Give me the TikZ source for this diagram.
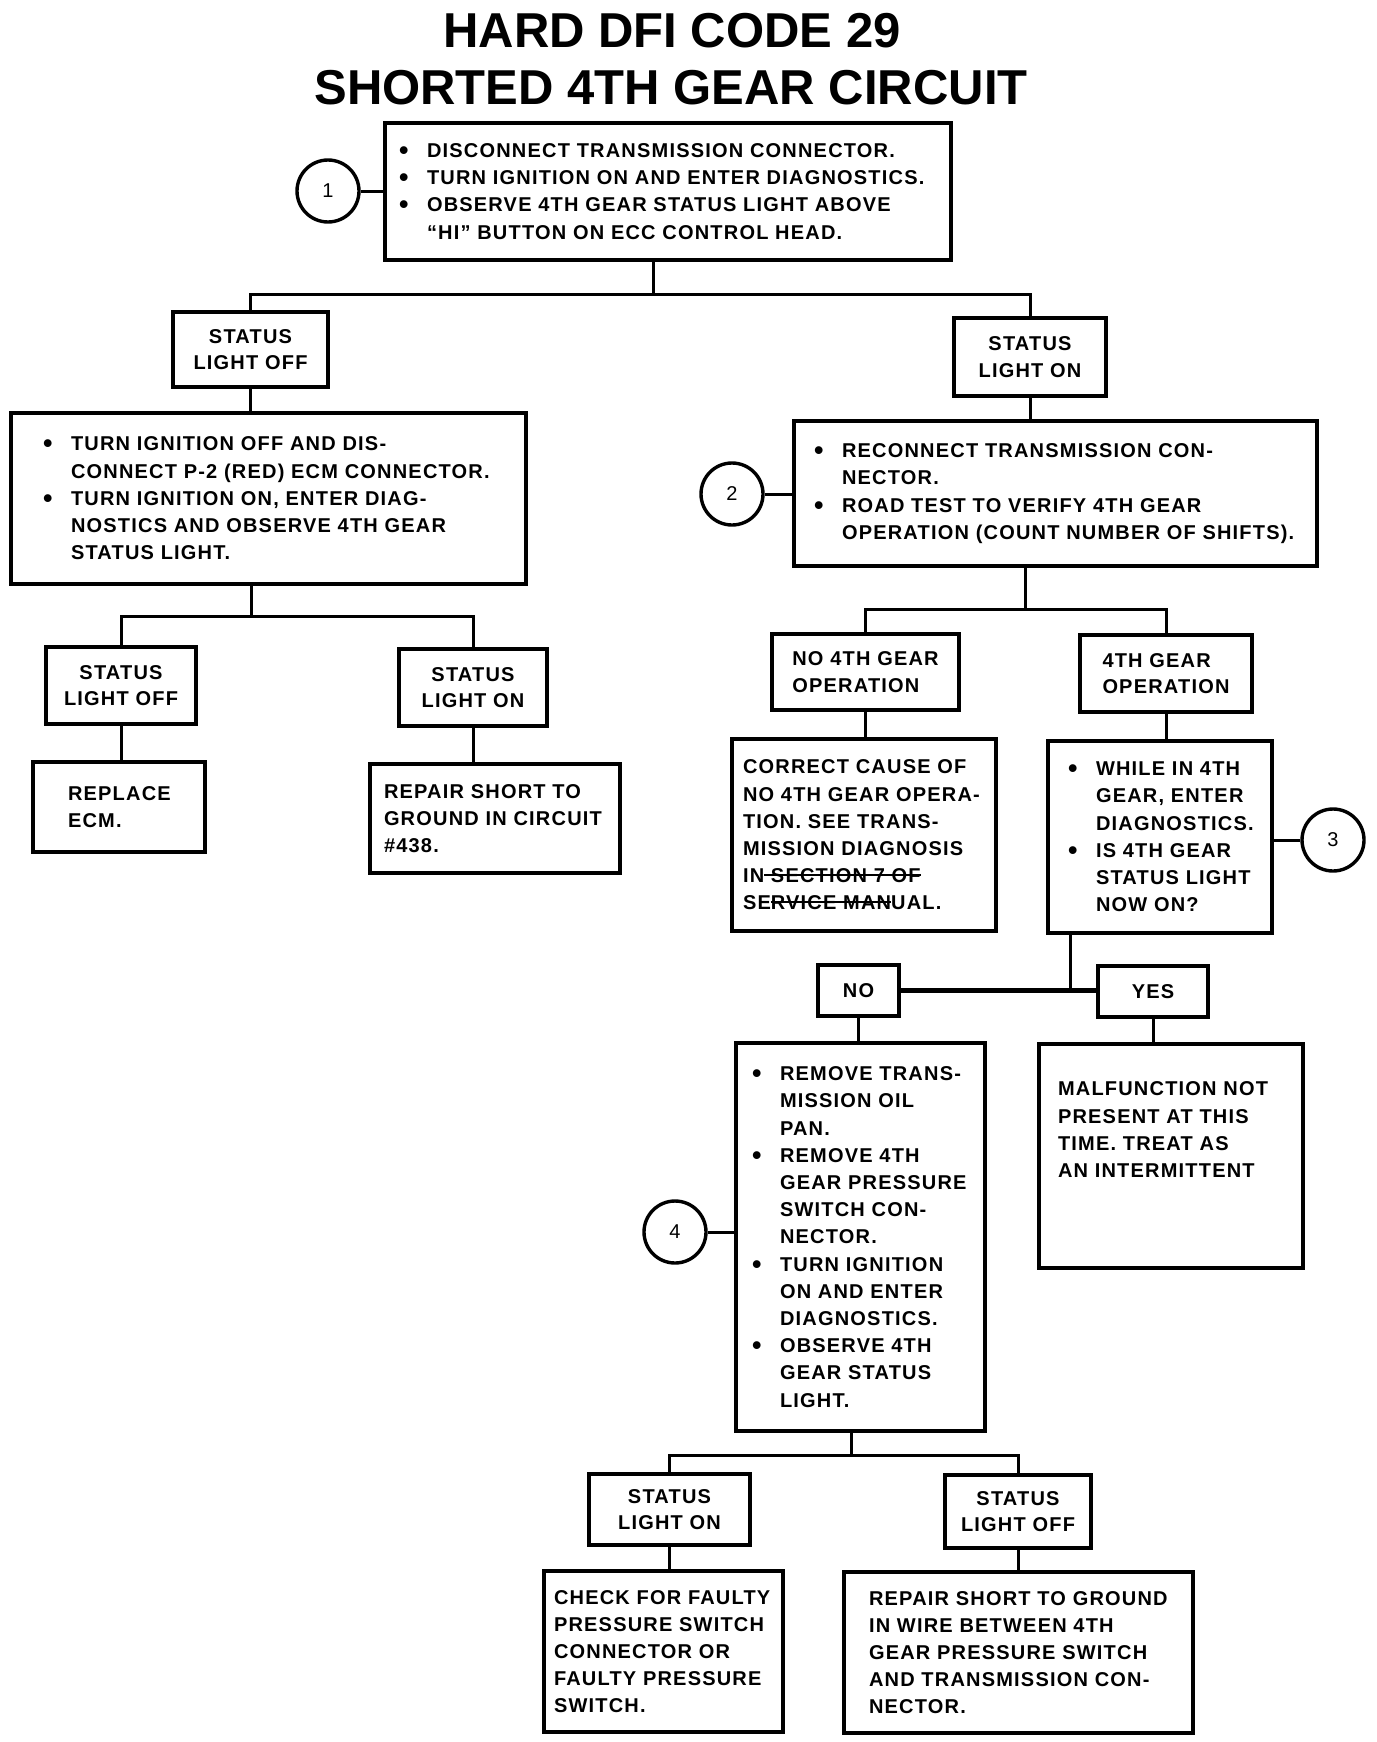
\documentclass[tikz,border=0pt]{standalone}
\usepackage{fontspec}
\setmainfont{Liberation Sans}
\newfontfamily\bodyfont{Liberation Sans}[LetterSpace=6]
\newsavebox\strkbox
\newcommand\strk[1]{\sbox\strkbox{#1}\rlap{\rule[6.5pt]{\wd\strkbox}{2.2pt}}\usebox\strkbox}
\newcommand\mybul{\makebox[28pt][l]{\raisebox{-2pt}{\fontsize{27}{27}\selectfont\textbullet}}}
\newcommand\myind{\hspace*{28pt}}
\newcommand\bx[7][]{\node[box,#7,minimum width={#5-#3},minimum height={#6-#4}] (#2) at ({(#3+#5)/2},{(#4+#6)/2}) {#1};}
\begin{document}
\begin{tikzpicture}[x=1pt,y=-1pt,
  box/.style={draw,line width=3.6pt,inner sep=0pt,outer sep=0pt,rectangle,align=center,
    font=\bodyfont\bfseries\fontsize{20}{26.5}\selectfont},
  conn/.style={line width=3pt},
  txt/.style={inner sep=0pt,outer sep=0pt,align=left,anchor=west,
    font=\bodyfont\bfseries\fontsize{20}{27.2}\selectfont},
  num/.style={draw,circle,line width=3.4pt,minimum size=62pt,inner sep=0pt,
    font=\fontsize{20}{20}\selectfont},
  ttl/.style={inner sep=0pt,anchor=base,font=\bfseries\fontsize{49}{49}\selectfont}]
\fill[white] (0,0) rectangle (1376,1742);
\useasboundingbox (0,0) rectangle (1376,1742);

% title
\node[ttl] (t1) at (672,48) {HARD DFI CODE 29};
\node[ttl] (t2) at (671,105) {SHORTED 4TH GEAR CIRCUIT};

% boxes
\bx{b1}{385}{123}{951}{260}{}
\bx[STATUS\\LIGHT OFF]{s1off}{173}{312}{328}{387}{}
\bx[STATUS\\LIGHT ON]{s1on}{954}{318}{1106}{396}{}
\bx{bl}{11}{413}{526}{584}{}
\bx{b2}{794}{421}{1317}{566}{}
\bx[STATUS\\LIGHT OFF]{s2off}{46}{647}{196}{724}{}
\bx[STATUS\\LIGHT ON]{s2on}{399}{649}{547}{726}{}
\bx{rep}{33}{762}{205}{852}{}
\bx{rep1}{370}{764}{620}{873}{}
\bx[NO 4TH GEAR\\OPERATION]{no4}{772}{634}{959}{710}{align=left}
\bx[4TH GEAR\\OPERATION]{w4}{1080}{635}{1252}{712}{align=left}
\bx{corr}{732}{739}{996}{931}{}
\bx{while}{1048}{741}{1272}{933}{}
\bx[NO]{no}{818}{965}{899}{1016}{}
\bx[YES]{yes}{1098}{966}{1208}{1017}{}
\bx{rem}{736}{1043}{985}{1431}{}
\bx{malf}{1039}{1044}{1303}{1268}{}
\bx[STATUS\\LIGHT ON]{s3on}{589}{1474}{750}{1545}{}
\bx[STATUS\\LIGHT OFF]{s3off}{945}{1475}{1091}{1548}{}
\bx{chk}{544}{1571}{783}{1732}{}
\bx{rw}{844}{1572}{1193}{1733}{}

% circles
\node[num] (c1) at (328,191) {1};
\node[num] (c2) at (732,494) {2};
\node[num] (c3) at (1333,840) {3};
\node[num] (c4) at (675,1232) {4};

% texts
\node[txt] (t-b1) at ([xshift=14pt]b1.west) {\mybul DISCONNECT TRANSMISSION CONNECTOR.\\
\mybul TURN IGNITION ON AND ENTER DIAGNOSTICS.\\
\mybul OBSERVE 4TH GEAR STATUS LIGHT ABOVE\\
\myind “HI” BUTTON ON ECC CONTROL HEAD.};
\node[txt] (t-bl) at ([xshift=32pt]bl.west) {\mybul TURN IGNITION OFF AND DIS-\\
\myind CONNECT P-2 (RED) ECM CONNECTOR.\\
\mybul TURN IGNITION ON, ENTER DIAG-\\
\myind NOSTICS AND OBSERVE 4TH GEAR\\
\myind STATUS LIGHT.};
\node[txt] (t-b2) at ([xshift=20pt]b2.west) {\mybul RECONNECT TRANSMISSION CON-\\
\myind NECTOR.\\
\mybul ROAD TEST TO VERIFY 4TH GEAR\\
\myind OPERATION (COUNT NUMBER OF SHIFTS).};
\node[txt] (t-rep) at ([xshift=35pt]rep.west) {REPLACE\\ECM.};
\node[txt] (t-rep1) at ([xshift=14pt]rep1.west) {REPAIR SHORT TO\\GROUND IN CIRCUIT\\\#438.};
\node[txt] (t-corr) at ([xshift=11pt]corr.west) {CORRECT CAUSE OF\\NO 4TH GEAR OPERA-\\TION. SEE TRANS-\\MISSION DIAGNOSIS\\IN\strk{ SECTION 7 OF}\\SE\strk{RVICE MAN}UAL.};
\node[txt] (t-while) at ([xshift=20pt]while.west) {\mybul WHILE IN 4TH\\
\myind GEAR, ENTER\\
\myind DIAGNOSTICS.\\
\mybul IS 4TH GEAR\\
\myind STATUS LIGHT\\
\myind NOW ON?};
\node[txt] (t-rem) at ([xshift=16pt]rem.west) {\mybul REMOVE TRANS-\\
\myind MISSION OIL\\
\myind PAN.\\
\mybul REMOVE 4TH\\
\myind GEAR PRESSURE\\
\myind SWITCH CON-\\
\myind NECTOR.\\
\mybul TURN IGNITION\\
\myind ON AND ENTER\\
\myind DIAGNOSTICS.\\
\mybul OBSERVE 4TH\\
\myind GEAR STATUS\\
\myind LIGHT.};
\node[txt,anchor=north west] (t-malf) at ([xshift=19pt,yshift=-38pt]malf.north west) {MALFUNCTION NOT\\PRESENT AT THIS\\TIME. TREAT AS\\AN INTERMITTENT};
\node[txt] (t-chk) at ([xshift=10pt]chk.west) {CHECK FOR FAULTY\\PRESSURE SWITCH\\CONNECTOR OR\\FAULTY PRESSURE\\SWITCH.};
\node[txt] (t-rw) at ([xshift=25pt]rw.west) {REPAIR SHORT TO GROUND\\IN WIRE BETWEEN 4TH\\GEAR PRESSURE SWITCH\\AND TRANSMISSION CON-\\NECTOR.};

% junctions
\coordinate (j1) at (653,294);
\coordinate (j2) at (251,616);
\coordinate (j3) at (1025,609);
\coordinate (j4) at (1070,991);
\coordinate (j5) at (851,1455);

% connectors
\draw[conn] (c1.east) -- (c1.east -| b1.west);
\draw[conn] (b1.south -| j1) -- (j1);
\draw[conn] (s1off.north) |- (j1) -| (s1on.north);
\draw[conn] (s1off.south) -- (s1off.south |- bl.north);
\draw[conn] (s1on.south) -- (s1on.south |- b2.north);
\draw[conn] (c2.east) -- (c2.east -| b2.west);
\draw[conn] (bl.south -| j2) -- (j2);
\draw[conn] (s2off.north) |- (j2) -| (s2on.north);
\draw[conn] (s2off.south) -- (s2off.south |- rep.north);
\draw[conn] (s2on.south) -- (s2on.south |- rep1.north);
\draw[conn] (b2.south -| j3) -- (j3);
\draw[conn] (no4.north) |- (j3) -| (w4.north);
\draw[conn] (no4.south) -- (no4.south |- corr.north);
\draw[conn] (w4.south) -- (w4.south |- while.north);
\draw[conn] (c3.west) -- (c3.west -| while.east);
\draw[conn] (while.south -| j4) -- (j4);
\draw[line width=5.5pt] (no.east) -- (no.east -| yes.west);
\draw[conn] (no.south) -- (no.south |- rem.north);
\draw[conn] (yes.south) -- (yes.south |- malf.north);
\draw[conn] (c4.east) -- (c4.east -| rem.west);
\draw[conn] (rem.south -| j5) -- (j5);
\draw[conn] (s3on.north) |- (j5) -| (s3off.north);
\draw[conn] (s3on.south) -- (s3on.south |- chk.north);
\draw[conn] (s3off.south) -- (s3off.south |- rw.north);
\end{tikzpicture}
\end{document}
